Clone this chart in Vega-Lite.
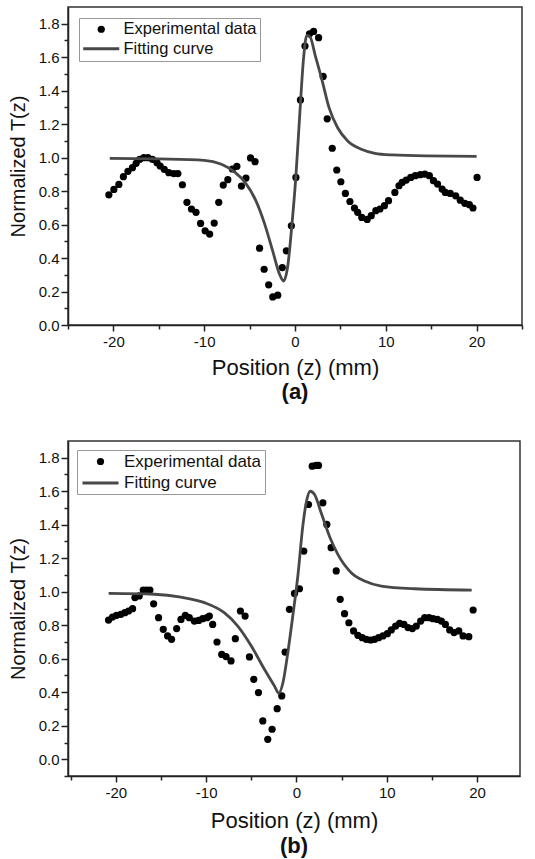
{
  "$schema": "https://vega.github.io/schema/vega-lite/v6.json",
  "padding": {"left": 7, "top": 6, "right": 5, "bottom": 0},
  "background": "white",
  "spacing": 36,
  "datasets": {
    "expA": [
      {"x": -20.5, "y": 0.778}, {"x": -19.95, "y": 0.81}, {"x": -19.4, "y": 0.84}, {"x": -18.9, "y": 0.886},
      {"x": -18.4, "y": 0.918}, {"x": -17.9, "y": 0.94}, {"x": -17.5, "y": 0.966}, {"x": -17.1, "y": 0.99},
      {"x": -16.65, "y": 1.0}, {"x": -16.2, "y": 1.0}, {"x": -15.7, "y": 0.99}, {"x": -15.2, "y": 0.97},
      {"x": -14.85, "y": 0.95}, {"x": -14.4, "y": 0.93}, {"x": -13.9, "y": 0.91}, {"x": -13.35, "y": 0.905},
      {"x": -12.9, "y": 0.905}, {"x": -12.4, "y": 0.838}, {"x": -11.9, "y": 0.733}, {"x": -11.4, "y": 0.693},
      {"x": -10.9, "y": 0.673}, {"x": -10.4, "y": 0.607}, {"x": -9.9, "y": 0.563}, {"x": -9.4, "y": 0.543},
      {"x": -8.9, "y": 0.609}, {"x": -8.4, "y": 0.733}, {"x": -7.9, "y": 0.836}, {"x": -7.4, "y": 0.868},
      {"x": -6.9, "y": 0.932}, {"x": -6.4, "y": 0.948}, {"x": -5.9, "y": 0.83}, {"x": -5.4, "y": 0.878},
      {"x": -4.9, "y": 0.998}, {"x": -4.4, "y": 0.976}, {"x": -3.9, "y": 0.459}, {"x": -3.4, "y": 0.333},
      {"x": -2.9, "y": 0.24}, {"x": -2.45, "y": 0.168}, {"x": -1.9, "y": 0.178}, {"x": -1.4, "y": 0.343},
      {"x": -0.95, "y": 0.443}, {"x": -0.4, "y": 0.593}, {"x": 0.1, "y": 0.882}, {"x": 0.6, "y": 1.345},
      {"x": 1.1, "y": 1.667}, {"x": 1.6, "y": 1.74}, {"x": 2.05, "y": 1.754}, {"x": 2.6, "y": 1.717},
      {"x": 3.1, "y": 1.485}, {"x": 3.55, "y": 1.232}, {"x": 4.1, "y": 1.056}, {"x": 4.6, "y": 0.926},
      {"x": 5.05, "y": 0.856}, {"x": 5.55, "y": 0.786}, {"x": 6.05, "y": 0.738}, {"x": 6.55, "y": 0.699},
      {"x": 6.9, "y": 0.673}, {"x": 7.35, "y": 0.643}, {"x": 7.95, "y": 0.631}, {"x": 8.4, "y": 0.653},
      {"x": 8.9, "y": 0.683}, {"x": 9.35, "y": 0.693}, {"x": 9.85, "y": 0.713}, {"x": 10.3, "y": 0.743},
      {"x": 11.0, "y": 0.792}, {"x": 11.45, "y": 0.832}, {"x": 11.8, "y": 0.852}, {"x": 12.25, "y": 0.866},
      {"x": 12.75, "y": 0.882}, {"x": 13.25, "y": 0.892}, {"x": 13.8, "y": 0.898}, {"x": 14.3, "y": 0.902},
      {"x": 14.8, "y": 0.892}, {"x": 15.25, "y": 0.862}, {"x": 15.7, "y": 0.842}, {"x": 16.2, "y": 0.812},
      {"x": 16.55, "y": 0.792}, {"x": 17.1, "y": 0.786}, {"x": 17.7, "y": 0.772}, {"x": 18.2, "y": 0.746},
      {"x": 18.7, "y": 0.727}, {"x": 19.2, "y": 0.719}, {"x": 19.6, "y": 0.699}, {"x": 20.05, "y": 0.882}
    ],
    "fitA": [
      {"x": -20.4, "y": 0.996}, {"x": -15, "y": 0.992}, {"x": -10, "y": 0.984}, {"x": -8.1, "y": 0.96},
      {"x": -6.6, "y": 0.912}, {"x": -5.5, "y": 0.852}, {"x": -4.3, "y": 0.742}, {"x": -3.4, "y": 0.613},
      {"x": -2.46, "y": 0.443}, {"x": -1.7, "y": 0.303}, {"x": -1.26, "y": 0.263}, {"x": -0.77, "y": 0.363},
      {"x": -0.4, "y": 0.563}, {"x": 0.09, "y": 0.882}, {"x": 0.55, "y": 1.28}, {"x": 0.92, "y": 1.58},
      {"x": 1.3, "y": 1.73}, {"x": 1.67, "y": 1.72}, {"x": 2.23, "y": 1.61}, {"x": 2.99, "y": 1.46},
      {"x": 3.74, "y": 1.3}, {"x": 4.68, "y": 1.18}, {"x": 5.8, "y": 1.1}, {"x": 7.3, "y": 1.05},
      {"x": 8.8, "y": 1.026}, {"x": 10.7, "y": 1.016}, {"x": 14.4, "y": 1.01}, {"x": 20.0, "y": 1.008}
    ],
    "expB": [
      {"x": -20.81, "y": 0.831}, {"x": -20.37, "y": 0.849}, {"x": -19.93, "y": 0.859}, {"x": -19.45, "y": 0.865},
      {"x": -19.0, "y": 0.875}, {"x": -18.6, "y": 0.885}, {"x": -18.15, "y": 0.899}, {"x": -17.89, "y": 0.965},
      {"x": -17.41, "y": 0.975}, {"x": -16.97, "y": 1.01}, {"x": -16.6, "y": 1.01}, {"x": -16.23, "y": 1.01},
      {"x": -15.82, "y": 0.928}, {"x": -15.27, "y": 0.845}, {"x": -14.75, "y": 0.776}, {"x": -14.27, "y": 0.736},
      {"x": -13.83, "y": 0.716}, {"x": -13.27, "y": 0.78}, {"x": -12.79, "y": 0.835}, {"x": -12.31, "y": 0.859},
      {"x": -11.87, "y": 0.845}, {"x": -11.31, "y": 0.825}, {"x": -10.83, "y": 0.829}, {"x": -10.39, "y": 0.839},
      {"x": -9.91, "y": 0.845}, {"x": -9.65, "y": 0.855}, {"x": -9.28, "y": 0.805}, {"x": -8.8, "y": 0.7},
      {"x": -8.28, "y": 0.626}, {"x": -7.8, "y": 0.613}, {"x": -7.25, "y": 0.587}, {"x": -6.77, "y": 0.72},
      {"x": -6.21, "y": 0.885}, {"x": -5.69, "y": 0.855}, {"x": -5.21, "y": 0.611}, {"x": -4.73, "y": 0.477},
      {"x": -4.21, "y": 0.398}, {"x": -3.73, "y": 0.229}, {"x": -3.18, "y": 0.119}, {"x": -2.7, "y": 0.179},
      {"x": -2.14, "y": 0.302}, {"x": -1.63, "y": 0.378}, {"x": -1.26, "y": 0.64}, {"x": -0.78, "y": 0.895},
      {"x": -0.22, "y": 0.99}, {"x": 0.33, "y": 1.018}, {"x": 0.81, "y": 1.243}, {"x": 1.33, "y": 1.521},
      {"x": 1.74, "y": 1.75}, {"x": 2.18, "y": 1.754}, {"x": 2.44, "y": 1.754}, {"x": 2.92, "y": 1.531},
      {"x": 3.36, "y": 1.402}, {"x": 3.84, "y": 1.263}, {"x": 4.4, "y": 1.124}, {"x": 4.84, "y": 0.955},
      {"x": 5.32, "y": 0.869}, {"x": 5.8, "y": 0.815}, {"x": 6.32, "y": 0.766}, {"x": 6.8, "y": 0.74},
      {"x": 7.28, "y": 0.726}, {"x": 7.73, "y": 0.716}, {"x": 8.21, "y": 0.712}, {"x": 8.65, "y": 0.716},
      {"x": 9.09, "y": 0.726}, {"x": 9.57, "y": 0.736}, {"x": 10.06, "y": 0.75}, {"x": 10.5, "y": 0.772},
      {"x": 10.98, "y": 0.795}, {"x": 11.42, "y": 0.811}, {"x": 11.9, "y": 0.805}, {"x": 12.35, "y": 0.786},
      {"x": 12.83, "y": 0.78}, {"x": 13.27, "y": 0.795}, {"x": 13.75, "y": 0.825}, {"x": 14.2, "y": 0.845},
      {"x": 14.68, "y": 0.845}, {"x": 15.12, "y": 0.839}, {"x": 15.6, "y": 0.835}, {"x": 16.04, "y": 0.825},
      {"x": 16.49, "y": 0.805}, {"x": 16.97, "y": 0.772}, {"x": 17.45, "y": 0.756}, {"x": 17.97, "y": 0.766},
      {"x": 18.45, "y": 0.736}, {"x": 19.08, "y": 0.732}, {"x": 19.56, "y": 0.891}
    ],
    "fitB": [
      {"x": -20.8, "y": 0.99}, {"x": -15.75, "y": 0.985}, {"x": -12.8, "y": 0.968}, {"x": -10.2, "y": 0.935},
      {"x": -8.0, "y": 0.875}, {"x": -6.5, "y": 0.795}, {"x": -5.0, "y": 0.676}, {"x": -3.55, "y": 0.537},
      {"x": -2.44, "y": 0.437}, {"x": -1.96, "y": 0.395}, {"x": -1.5, "y": 0.457}, {"x": -0.96, "y": 0.636},
      {"x": -0.41, "y": 0.855}, {"x": 0.15, "y": 1.094}, {"x": 0.7, "y": 1.392}, {"x": 1.07, "y": 1.53},
      {"x": 1.52, "y": 1.6}, {"x": 2.0, "y": 1.58}, {"x": 2.74, "y": 1.47}, {"x": 3.66, "y": 1.33},
      {"x": 4.58, "y": 1.223}, {"x": 6.06, "y": 1.114}, {"x": 7.54, "y": 1.064}, {"x": 9.39, "y": 1.034},
      {"x": 13.1, "y": 1.018}, {"x": 19.4, "y": 1.01}
    ]
  },
  "resolve": {"scale": {"x": "independent", "y": "independent", "color": "independent", "shape": "independent"}, "legend": {"color": "independent", "shape": "independent"}},
  "vconcat": [
    {
      "width": 454, "height": 318,
      "title": {"text": "(a)", "orient": "bottom", "fontSize": 22, "fontWeight": "bold", "frame": "group", "offset": 4, "color": "#111"},
      "layer": [
        {
          "data": {"name": "expA"},
          "mark": {"type": "point", "filled": true, "size": 52, "opacity": 1},
          "encoding": {
            "x": {"field": "x", "type": "quantitative", "scale": {"domain": [-25, 25], "nice": false, "zero": false},
              "axis": {"title": "Position (z) (mm)", "titleFontSize": 22, "values": [-25, -20, -15, -10, -5, 0, 5, 10, 15, 20, 25], "tickCount": 100,
                "labelExpr": "datum.value % 10 == 0 ? '' + datum.value : ''", "labelFlush": false, "labelOverlap": false,
                "tickSize": {"condition": {"test": "datum.value % 10 == 0", "value": 6}, "value": 4}, "labelPadding": 3, "titlePadding": 8}},
            "y": {"field": "y", "type": "quantitative", "scale": {"domain": [0, 1.9], "nice": false, "zero": false},
              "axis": {"title": "Normalized T(z)", "titleFontSize": 20, "values": [0, 0.1, 0.2, 0.3, 0.4, 0.5, 0.6, 0.7, 0.8, 0.9, 1.0, 1.1, 1.2, 1.3, 1.4, 1.5, 1.6, 1.7, 1.8], "tickCount": 100,
                "labelExpr": "abs(round(datum.value*10)) % 2 == 0 ? format(datum.value, '.1f') : ''", "labelOverlap": false, "labelFlush": false,
                "tickSize": {"condition": {"test": "abs(round(datum.value*10)) % 2 == 0", "value": 7}, "value": 4}, "labelPadding": 2, "titlePadding": 10}},
            "color": {"datum": "Experimental data", "type": "nominal",
              "scale": {"domain": ["Experimental data", "Fitting curve"], "range": ["#000000", "#484848"]},
              "legend": {"orient": "none", "legendX": 11, "legendY": 11, "title": null, "labelFontSize": 16.5, "labelColor": "#111111",
                "strokeColor": "#999999", "fillColor": "white", "padding": 3, "rowPadding": 2.5, "labelOffset": 14, "symbolOffset": 11,
                "symbolSize": 52, "symbolStrokeWidth": 0, "symbolOpacity": 1}},
            "shape": {"datum": "Experimental data", "type": "nominal",
              "scale": {"domain": ["Experimental data", "Fitting curve"], "range": ["circle", "M-5,-0.42H5V0.42H-5Z"]},
              "legend": {"orient": "none", "legendX": 11, "legendY": 11, "title": null, "labelFontSize": 16.5, "labelColor": "#111111",
                "strokeColor": "#999999", "fillColor": "white", "padding": 3, "rowPadding": 2.5, "labelOffset": 14, "symbolOffset": 11,
                "symbolSize": 52, "symbolStrokeWidth": 0, "symbolOpacity": 1}}
          }
        },
        {
          "data": {"name": "fitA"},
          "mark": {"type": "line", "strokeWidth": 2.8, "interpolate": "monotone"},
          "encoding": {
            "x": {"field": "x", "type": "quantitative"},
            "y": {"field": "y", "type": "quantitative"},
            "color": {"datum": "Fitting curve", "type": "nominal", "legend": null}
          }
        }
      ]
    },
    {
      "width": 452, "height": 335,
      "title": {"text": "(b)", "orient": "bottom", "fontSize": 22, "fontWeight": "bold", "frame": "group", "offset": 5, "color": "#111"},
      "layer": [
        {
          "data": {"name": "expB"},
          "mark": {"type": "point", "filled": true, "size": 52, "opacity": 1},
          "encoding": {
            "x": {"field": "x", "type": "quantitative", "scale": {"domain": [-25.3, 24.75], "nice": false, "zero": false},
              "axis": {"title": "Position (z) (mm)", "titleFontSize": 22, "values": [-25, -20, -15, -10, -5, 0, 5, 10, 15, 20], "tickCount": 100,
                "labelExpr": "datum.value % 10 == 0 ? '' + datum.value : ''", "labelFlush": false, "labelOverlap": false,
                "tickSize": {"condition": {"test": "datum.value % 10 == 0", "value": 6}, "value": 4}, "labelPadding": 3, "titlePadding": 10}},
            "y": {"field": "y", "type": "quantitative", "scale": {"domain": [-0.1, 1.9], "nice": false, "zero": false},
              "axis": {"title": "Normalized T(z)", "titleFontSize": 20, "values": [-0.1, 0, 0.1, 0.2, 0.3, 0.4, 0.5, 0.6, 0.7, 0.8, 0.9, 1.0, 1.1, 1.2, 1.3, 1.4, 1.5, 1.6, 1.7, 1.8], "tickCount": 100,
                "labelExpr": "abs(round(datum.value*10)) % 2 == 0 ? format(datum.value, '.1f') : ''", "labelOverlap": false, "labelFlush": false,
                "tickSize": {"condition": {"test": "abs(round(datum.value*10)) % 2 == 0", "value": 7}, "value": 4}, "labelPadding": 2, "titlePadding": 10}},
            "color": {"datum": "Experimental data", "type": "nominal",
              "scale": {"domain": ["Experimental data", "Fitting curve"], "range": ["#000000", "#484848"]},
              "legend": {"orient": "none", "legendX": 9, "legendY": 9, "title": null, "labelFontSize": 17, "labelColor": "#111111",
                "strokeColor": "#999999", "fillColor": "white", "padding": 3, "rowPadding": 3.5, "labelOffset": 15, "symbolOffset": 12,
                "symbolSize": 52, "symbolStrokeWidth": 0, "symbolOpacity": 1}},
            "shape": {"datum": "Experimental data", "type": "nominal",
              "scale": {"domain": ["Experimental data", "Fitting curve"], "range": ["circle", "M-5,-0.42H5V0.42H-5Z"]},
              "legend": {"orient": "none", "legendX": 9, "legendY": 9, "title": null, "labelFontSize": 17, "labelColor": "#111111",
                "strokeColor": "#999999", "fillColor": "white", "padding": 3, "rowPadding": 3.5, "labelOffset": 15, "symbolOffset": 12,
                "symbolSize": 52, "symbolStrokeWidth": 0, "symbolOpacity": 1}}
          }
        },
        {
          "data": {"name": "fitB"},
          "mark": {"type": "line", "strokeWidth": 2.8, "interpolate": "monotone"},
          "encoding": {
            "x": {"field": "x", "type": "quantitative"},
            "y": {"field": "y", "type": "quantitative"},
            "color": {"datum": "Fitting curve", "type": "nominal", "legend": null}
          }
        }
      ]
    }
  ],
  "config": {
    "font": "Liberation Sans",
    "view": {"stroke": "#333333", "strokeWidth": 1.5},
    "axis": {"grid": false, "domainColor": "#222222", "domainWidth": 1.5, "tickColor": "#222222", "tickWidth": 1.5,
      "labelFont": "Liberation Sans", "labelFontSize": 15, "labelColor": "#111111",
      "titleFont": "Liberation Sans", "titleColor": "#111111", "titleFontWeight": "normal"},
    "legend": {"labelFont": "Liberation Sans"},
    "title": {"font": "Liberation Sans"}
  }
}
